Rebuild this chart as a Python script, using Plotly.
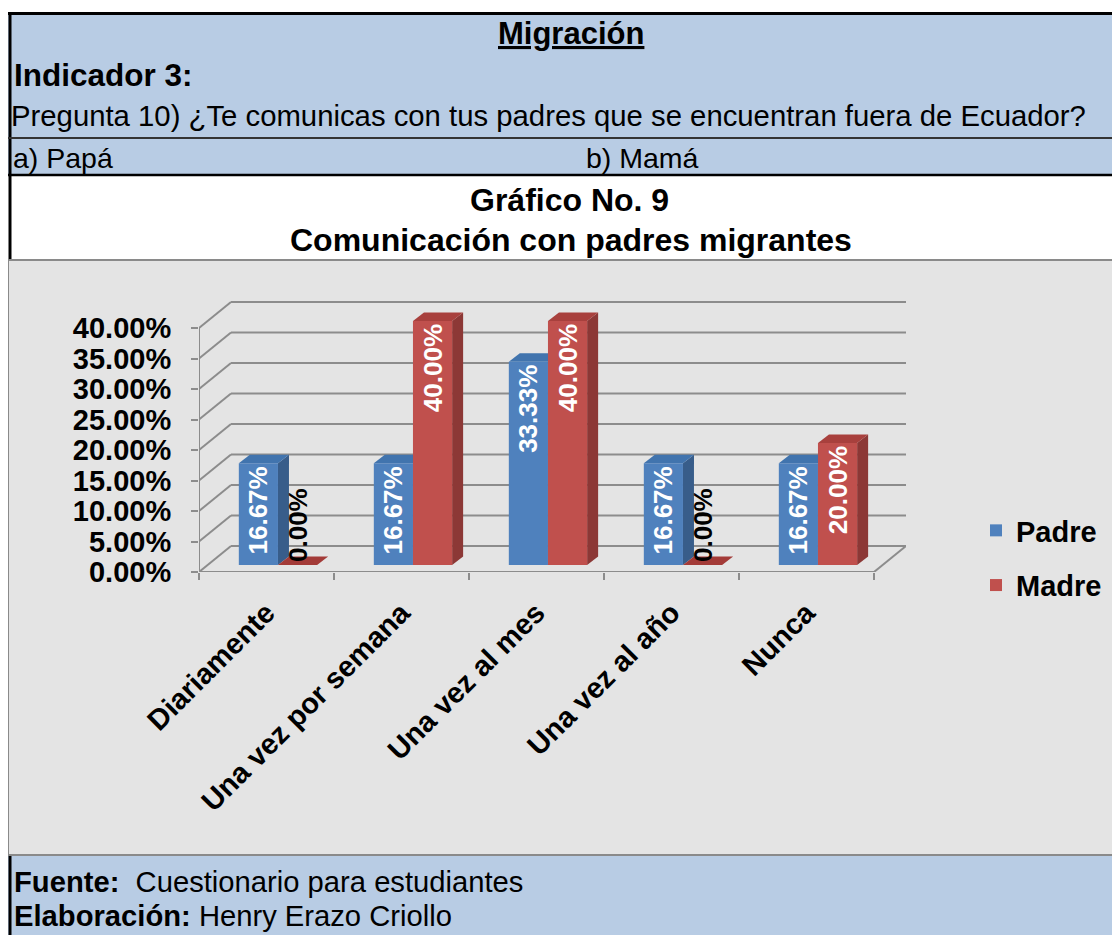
import plotly.graph_objects as go

# ---------------- data ----------------
categories = ["Diariamente", "Una vez por semana", "Una vez al mes", "Una vez al año", "Nunca"]
padre = [16.67, 16.67, 33.33, 16.67, 16.67]
madre = [0.00, 40.00, 40.00, 0.00, 20.00]
series_names = ["Padre", "Madre"]
y_ticks = [0, 5, 10, 15, 20, 25, 30, 35, 40]
y_tick_labels = [f"{v:.2f}%" for v in y_ticks]

# ---------------- geometry helpers ----------------
W, H = 1112, 927
OFF = 8  # default body margin of the page


def fx(x):
    return (x - OFF) / W


def fy(y):
    return 1 - (y - OFF) / H


FONT = "Liberation Sans, Arial, sans-serif"
BLUE_BG = "#b8cce4"
GRID = "#8c8c8c"

PX_L, PX_PER_CAT, PX_BOTTOM, PX_PER_PCT = 199, 135, 572, 6.1
DX = 32 / PX_PER_CAT      # depth of walls (category units)
DY = 26 / PX_PER_PCT      # depth of walls (percent units)
X0 = -0.5
X1 = len(categories) - 0.5 + DX
Y1 = 44.5
PX_R = PX_L + (X1 - X0) * PX_PER_CAT
PX_TOP = PX_BOTTOM - Y1 * PX_PER_PCT

S = 0.085                  # group shift (perspective)
BW = 0.29                  # bar width
B = 1.15                   # bars sit slightly back on the floor
BDX = 11 / PX_PER_CAT      # bar depth
BDY = 8.5 / PX_PER_PCT

# front, side, top, flat (zero) plate
colors = {
    "Padre": ("#4f81bd", "#385d8a", "#4174ae", "#385d8a"),
    "Madre": ("#c0504d", "#8c3836", "#a8403d", "#a33b38"),
}

fig = go.Figure()

shapes = []
# header / frame shapes (paper coords)
shapes.append(dict(type="rect", xref="paper", yref="paper", x0=fx(8), x1=fx(1121), y0=fy(175), y1=fy(12),
                   fillcolor=BLUE_BG, line=dict(width=0), layer="below"))
shapes.append(dict(type="rect", xref="paper", yref="paper", x0=fx(8), x1=fx(1122), y0=fy(855), y1=fy(260),
                   fillcolor="#e4e4e4", line=dict(color="#8a8a8a", width=2), layer="below"))
shapes.append(dict(type="rect", xref="paper", yref="paper", x0=fx(8), x1=fx(1121), y0=fy(936), y1=fy(855),
                   fillcolor=BLUE_BG, line=dict(width=0), layer="below"))
shapes.append(dict(type="line", xref="paper", yref="paper", x0=fx(8), x1=fx(1121), y0=fy(855), y1=fy(855),
                   line=dict(color="#8a8a8a", width=2), layer="below"))
shapes.append(dict(type="line", xref="paper", yref="paper", x0=fx(8), x1=fx(1121), y0=fy(13.5), y1=fy(13.5),
                   line=dict(color="black", width=3), layer="below"))
shapes.append(dict(type="line", xref="paper", yref="paper", x0=fx(10), x1=fx(10), y0=fy(12), y1=fy(259),
                   line=dict(color="black", width=3), layer="below"))
shapes.append(dict(type="line", xref="paper", yref="paper", x0=fx(10), x1=fx(10), y0=fy(856), y1=fy(936),
                   line=dict(color="black", width=3), layer="below"))
shapes.append(dict(type="line", xref="paper", yref="paper", x0=fx(8), x1=fx(1121), y0=fy(138), y1=fy(138),
                   line=dict(color="#333333", width=2), layer="below"))
shapes.append(dict(type="line", xref="paper", yref="paper", x0=fx(8), x1=fx(1121), y0=fy(175), y1=fy(175),
                   line=dict(color="black", width=2.5), layer="below"))

# walls (data coords)
nb = len(categories)
for k in y_ticks:
    shapes.append(dict(type="line", xref="x", yref="y", x0=X0 + DX, x1=nb - 0.5 + DX, y0=k + DY, y1=k + DY,
                       line=dict(color=GRID, width=2), layer="below"))
    shapes.append(dict(type="line", xref="x", yref="y", x0=X0, x1=X0 + DX, y0=k, y1=k + DY,
                       line=dict(color=GRID, width=2), layer="below"))
shapes.append(dict(type="line", xref="x", yref="y", x0=X0, x1=X0, y0=0, y1=y_ticks[-1],
                   line=dict(color=GRID, width=2), layer="below"))
shapes.append(dict(type="line", xref="x", yref="y", x0=X0, x1=nb - 0.5, y0=0, y1=0,
                   line=dict(color=GRID, width=2), layer="below"))
shapes.append(dict(type="line", xref="x", yref="y", x0=nb - 0.5, x1=nb - 0.5 + DX, y0=0, y1=DY,
                   line=dict(color=GRID, width=2), layer="below"))

# 3D faces of bars computed from data
for name, vals, sign in (("Padre", padre, -1), ("Madre", madre, 0)):
    _, side, top, flat = colors[name]
    for i, v in enumerate(vals):
        xa = i + S + (sign * BW)
        xb = xa + BW
        yb, yt = B, B + v
        if v > 0:
            shapes.append(dict(type="path", xref="x", yref="y",
                               path=f"M{xb},{yb} L{xb+BDX},{yb+BDY} L{xb+BDX},{yt+BDY} L{xb},{yt} Z",
                               fillcolor=side, line=dict(width=0), layer="below"))
        shapes.append(dict(type="path", xref="x", yref="y",
                           path=f"M{xa},{yt} L{xb},{yt} L{xb+BDX},{yt+BDY} L{xa+BDX},{yt+BDY} Z",
                           fillcolor=top if v > 0 else flat, line=dict(width=0), layer="below"))

# bars (front faces)
for gi, (name, vals, off) in enumerate((("Padre", padre, -BW), ("Madre", madre, 0))):
    front = colors[name][0]
    fig.add_trace(go.Bar(
        name=name, legendgroup=name,
        x=[i + S for i in range(nb)], y=vals, base=B, width=BW, offset=off,
        marker=dict(color=front, line=dict(width=0)),
        text=[f"{v:.2f}%" for v in vals],
        textposition=["inside" if v > 0 else "outside" for v in vals],
        textangle=-90, insidetextanchor="end", constraintext="none", cliponaxis=False,
        insidetextfont=dict(family=FONT, size=26, color="white", weight="bold"),
        outsidetextfont=dict(family=FONT, size=26, color="black", weight="bold"),
    ))

annotations = []


def ann(text, x, y, size, xanchor="left"):
    annotations.append(dict(text=text, x=fx(x), y=fy(y), xref="paper", yref="paper",
                            xanchor=xanchor, yanchor="middle", showarrow=False,
                            font=dict(family=FONT, size=size, color="black")))


ann("<b><u>Migración</u></b>", 571, 34, 31, "center")
ann("<b>Indicador 3:</b>", 12, 75, 31.5)
ann("Pregunta 10) ¿Te comunicas con tus padres que se encuentran fuera de Ecuador?", 9, 116, 29.3)
ann("a) Papá", 11, 158, 28.5)
ann("b) Mamá", 642, 158, 28.5, "center")
ann("<b>Gráfico No. 9</b>", 569, 200, 32, "center")
ann("<b>Comunicación con padres migrantes</b>", 571, 240, 32, "center")
ann("<b>Fuente:</b>\u00a0 Cuestionario para estudiantes", 12, 882, 29.2)
ann("<b>Elaboración:</b> Henry Erazo Criollo", 12, 916, 29.2)

fig.update_layout(
    width=W, height=H,
    margin=dict(l=0, r=0, t=0, b=0, autoexpand=False),
    paper_bgcolor="white", plot_bgcolor="rgba(0,0,0,0)",
    barmode="overlay",
    shapes=shapes, annotations=annotations,
    font=dict(family=FONT, color="black"),
    showlegend=True,
    legend=dict(x=fx(976), y=fy(505), xanchor="left", yanchor="top",
                xref="container", yref="container",
                bgcolor="rgba(0,0,0,0)", tracegroupgap=14,
                font=dict(family=FONT, size=29, color="black", weight="bold")),
    xaxis=dict(domain=[fx(PX_L), fx(PX_R)], range=[X0, X1], automargin=False,
               tickmode="array", tickvals=list(range(nb)), ticktext=categories,
               tickangle=-45, ticks="", showgrid=False, zeroline=False, showline=False,
               tickfont=dict(family=FONT, size=29, color="black", weight="bold"),
               ticklabelstandoff=17,
               minor=dict(tickmode="array", tickvals=[X0 + j for j in range(nb + 1)],
                          ticks="outside", ticklen=7, tickwidth=2, tickcolor=GRID, showgrid=False)),
    yaxis=dict(domain=[fy(PX_BOTTOM), fy(PX_TOP)], range=[0, Y1], automargin=False,
               tickmode="array", tickvals=y_ticks, ticktext=y_tick_labels,
               ticks="outside", ticklen=7, tickwidth=2, tickcolor=GRID,
               showgrid=False, zeroline=False, showline=False, ticklabelstandoff=14,
               tickfont=dict(family=FONT, size=29, color="black", weight="bold")),
)

fig.write_html("out.html")
